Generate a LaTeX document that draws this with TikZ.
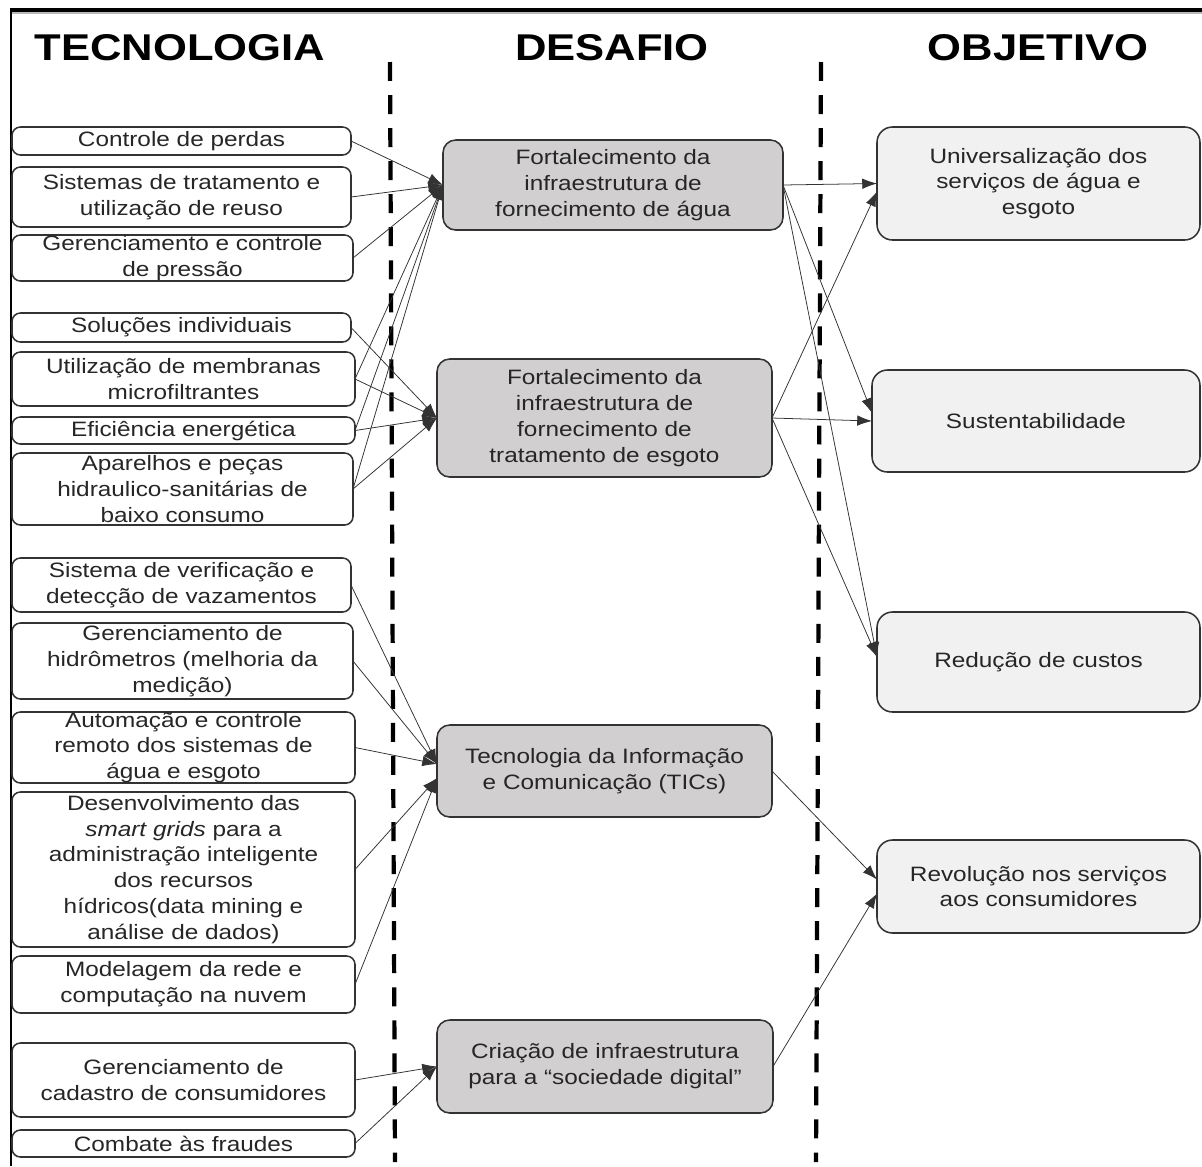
\documentclass[tikz,border=0pt]{standalone}
\usepackage{fontspec}
\setmainfont[FakeStretch=1.17]{Liberation Sans}
\usetikzlibrary{arrows.meta,calc}
\definecolor{midgray}{HTML}{D1CFD0}
\definecolor{lightgray2}{HTML}{F1F1F1}
\definecolor{edgecol}{HTML}{333333}
\definecolor{txtcol}{HTML}{262626}
\newcommand\mybox[7]{%
  \node[#6,minimum width={(#4-#2)*0.025cm},minimum height={(#5-#3)*0.025cm}] (#1) at ({(#2+#4)/2},{(#3+#5)/2}) {};
  \node[lbl] (#1t) at (#1.center) {#7};}
\begin{document}
\begin{tikzpicture}[x=0.025cm,y=-0.025cm,
  basebox/.style={draw=edgecol,line width=1.1pt,inner sep=0pt,outer sep=0pt},
  lbox/.style={basebox,fill=white,rounded corners=6pt},
  mbox/.style={basebox,fill=midgray,rounded corners=9pt},
  rbox/.style={basebox,fill=lightgray2,rounded corners=11pt},
  lbl/.style={align=center,text=txtcol,font=\fontsize{14.8}{18.4}\selectfont,inner sep=0pt},
  hdr/.style={font=\bfseries\fontsize{26.5}{30}\selectfont,anchor=base,inner sep=0pt},
  conn/.style={draw=black!80,line width=0.55pt,-{Latex[length=10.5pt,width=7.5pt]}},
  sepline/.style={line width=3pt,dash pattern=on 13.5pt off 10pt}]
\useasboundingbox (0,0) rectangle (1202,1166);
% frame
\draw[gray!55,line width=1.5pt] (12,13) -- (1202,13);
\draw[line width=2.2pt] (10,10) -- (1202,10);
\draw[line width=1.6pt] (11,9) -- (11,1166);
% headers
\node[hdr] (h1) at (180,60) {TECNOLOGIA};
\node[hdr] (h2) at (612,60) {DESAFIO};
\node[hdr] (h3) at (1038,60) {OBJETIVO};
% separators
\coordinate (s1a) at (390,62); \coordinate (s1b) at (395,1162);
\coordinate (s2a) at (821,62); \coordinate (s2b) at (816,1162);
\draw[sepline] (s1a) -- (s1b);
\draw[sepline] (s2a) -- (s2b);
% left boxes
\mybox{t1}{12}{127}{351}{155}{lbox}{Controle de perdas}
\mybox{t2}{12}{167}{351}{227}{lbox}{Sistemas de tratamento e\\utilização de reuso}
\mybox{t3}{12}{235}{353}{281}{lbox}{Gerenciamento e controle\\de pressão}
\mybox{t4}{12}{313}{351}{342}{lbox}{Soluções individuais}
\mybox{t5}{12}{352}{355}{406}{lbox}{Utilização de membranas\\microfiltrantes}
\mybox{t6}{12}{417}{355}{444}{lbox}{Eficiência energética}
\mybox{t7}{12}{453}{353}{525}{lbox}{Aparelhos e peças\\hidraulico-sanitárias de\\baixo consumo}
\mybox{t8}{12}{558}{351}{612}{lbox}{Sistema de verificação e\\detecção de vazamentos}
\mybox{t9}{12}{623}{353}{699}{lbox}{Gerenciamento de\\hidrômetros (melhoria da\\medição)}
\mybox{t10}{12}{712}{355}{783}{lbox}{Automação e controle\\remoto dos sistemas de\\água e esgoto}
\mybox{t11}{12}{792}{355}{947}{lbox}{Desenvolvimento das\\\textit{smart grids} para a\\administração inteligente\\dos recursos\\hídricos(data mining e\\análise de dados)}
\mybox{t12}{12}{956}{355}{1013}{lbox}{Modelagem da rede e\\computação na nuvem}
\mybox{t13}{12}{1043}{355}{1117}{lbox}{Gerenciamento de\\cadastro de consumidores}
\mybox{t14}{12}{1130}{355}{1157}{lbox}{Combate às fraudes}
% middle boxes
\mybox{m1}{443}{140}{783}{230}{mbox}{Fortalecimento da\\infraestrutura de\\fornecimento de água}
\mybox{m2}{437}{359}{772}{477}{mbox}{Fortalecimento da\\infraestrutura de\\fornecimento de\\tratamento de esgoto}
\mybox{m3}{437}{725}{772}{817}{mbox}{Tecnologia da Informação\\e Comunicação (TICs)}
\mybox{m4}{437}{1020}{773}{1113}{mbox}{Criação de infraestrutura\\para a “sociedade digital”}
% right boxes
\mybox{o1}{877}{127}{1200}{240}{rbox}{Universalização dos\\serviços de água e\\esgoto}
\mybox{o2}{872}{370}{1200}{472}{rbox}{Sustentabilidade}
\mybox{o3}{877}{612}{1200}{712}{rbox}{Redução de custos}
\mybox{o4}{877}{840}{1200}{933}{rbox}{Revolução nos serviços\\aos consumidores}
% connectors left -> middle
\foreach \s in {t1,t2,t3,t5,t6,t7} \draw[conn] (\s.east) -- (m1.west);
\foreach \s in {t4,t5,t6,t7} \draw[conn] (\s.east) -- (m2.west);
\foreach \s in {t8,t9,t10} \draw[conn] (\s.east) -- ($(m3.west)+(0,-7)$);
\foreach \s in {t11,t12} \draw[conn] (\s.east) -- ($(m3.west)+(0,7)$);
\foreach \s in {t13,t14} \draw[conn] (\s.east) -- (m4.west);
% middle -> right
\draw[conn] (m1.east) -- (o1.west);
\draw[conn] (m1.east) -- ($(o2.west)+(0,-8)$);
\draw[conn] (m1.east) -- ($(o3.west)+(0,-5)$);
\draw[conn] (m2.east) -- ($(o1.west)+(0,8)$);
\draw[conn] (m2.east) -- (o2.west);
\draw[conn] (m2.east) -- ($(o3.west)+(0,-5)$);
\draw[conn] (m3.east) -- ($(o4.west)+(0,-7)$);
\draw[conn] (m4.east) -- ($(o4.west)+(0,7)$);
\end{tikzpicture}
\end{document}
